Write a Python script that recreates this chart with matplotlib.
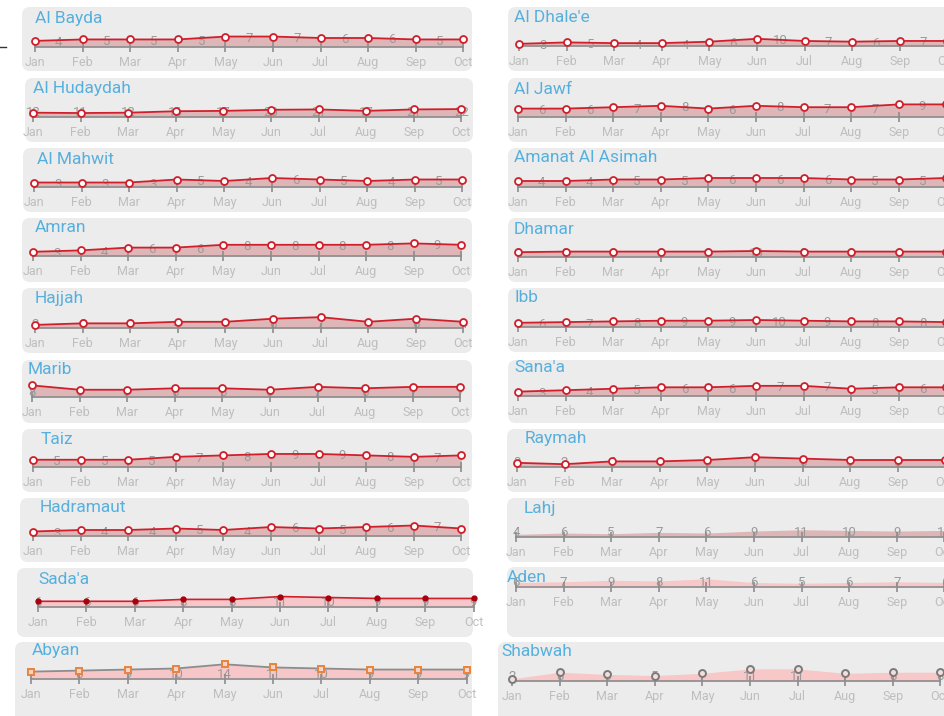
import matplotlib
matplotlib.use("Agg")
import matplotlib.pyplot as plt
from matplotlib.patches import FancyBboxPatch

# province data, Jan..Oct
months = ['Jan', 'Feb', 'Mar', 'Apr', 'May', 'Jun', 'Jul', 'Aug', 'Sep', 'Oct']

left_names = ['Al Bayda', 'Al Hudaydah', 'Al Mahwit', 'Amran', 'Hajjah',
              'Marib', 'Taiz', 'Hadramaut', "Sada'a", 'Abyan']
right_names = ["Al Dhale'e", 'Al Jawf', 'Amanat Al Asimah', 'Dhamar', 'Ibb',
               "Sana'a", 'Raymah', 'Lahj', 'Aden', 'Shabwah']

al_bayda = [4, 5, 5, 5, 7, 7, 6, 6, 5, 5]
al_hudaydah = [12, 11, 12, 16, 17, 20, 21, 17, 21, 22]
al_mahwit = [3, 3, 3, 5, 4, 6, 5, 4, 5, 5]
amran = [3, 4, 6, 6, 8, 8, 8, 8, 9, 8]
hajjah = [2, 3, 3, 4, 4, 6, 7, 4, 6, 4]
marib = [8, 5, 5, 6, 6, 5, 7, 6, 7, 7]
taiz = [5, 5, 5, 7, 8, 9, 9, 8, 7, 8]
hadramaut = [3, 4, 4, 5, 4, 6, 5, 6, 7, 5]
sadaa = [6, 6, 6, 8, 8, 11, 10, 9, 9, 9]
abyan = [7, 8, 9, 10, 14, 11, 10, 9, 9, 9]

al_dhalee = [3, 5, 4, 4, 6, 10, 7, 6, 7, 7]
al_jawf = [6, 6, 7, 8, 6, 8, 7, 7, 9, 9]
amanat = [4, 4, 5, 5, 6, 6, 6, 5, 5, 6]
dhamar = [8, 9, 9, 9, 9, 10, 9, 9, 9, 9]
ibb = [6, 7, 8, 9, 9, 10, 9, 8, 8, 7]
sanaa = [3, 4, 5, 6, 6, 7, 7, 5, 6, 6]
raymah = [3, 2, 4, 4, 5, 7, 6, 5, 5, 5]
lahj = [4, 6, 5, 7, 6, 9, 11, 10, 9, 10]
aden = [6, 7, 9, 8, 11, 6, 5, 6, 7, 6]
shabwah = [2, 8, 6, 5, 7, 11, 11, 7, 8, 8]

left_values = [al_bayda, al_hudaydah, al_mahwit, amran, hajjah,
               marib, taiz, hadramaut, sadaa, abyan]
right_values = [al_dhalee, al_jawf, amanat, dhamar, ibb,
                sanaa, raymah, lahj, aden, shabwah]

# layout in pixels: panel box (l, t, r, b), baseline y, jan x, month step,
# title pos, pixels per unit, mark style, label style
left_layout = [
    ((22, 7, 472, 71), 46.7, 35, 47.6, (35, 18), 1.45, 'std', 'mid'),
    ((25, 78, 473, 142), 117, 33, 47.6, (33, 88), 0.36, 'std', 'tick'),
    ((23, 148, 472, 212), 187, 34, 47.6, (37, 159), 1.5, 'std', 'mid'),
    ((22, 218, 472, 282), 256, 33, 47.6, (35, 228), 1.4, 'std', 'mid'),
    ((22, 288, 472, 353), 328, 35, 47.6, (35, 299), 1.55, 'std', 'tick'),
    ((22, 360, 472, 423), 397, 32, 47.6, (28, 370), 1.45, 'std', 'tick'),
    ((22, 429, 472, 492), 467, 33, 47.6, (41, 439), 1.45, 'std', 'mid'),
    ((20, 498, 469, 562), 536, 33, 47.6, (40, 508), 1.5, 'std', 'mid'),
    ((17, 568, 473, 637), 607, 38, 48.4, (38, 579), 0.95, 'dot', 'tick'),
    ((15, 642, 472, 724), 679, 31, 48.4, (32, 651), 1.05, 'square', 'tick'),
]
right_layout = [
    ((508, 7, 970, 71), 46, 519, 47.6, (514, 17), 0.72, 'std', 'mid'),
    ((508, 78, 970, 142), 117, 518, 47.6, (514, 89), 1.4, 'std', 'mid'),
    ((508, 148, 970, 212), 187, 518, 47.6, (514, 157), 1.5, 'std', 'mid'),
    ((508, 218, 970, 282), 257, 518, 47.6, (514, 230), 0.6, 'std', 'tick'),
    ((508, 288, 970, 352), 327, 518, 47.6, (514, 298), 0.7, 'std', 'mid'),
    ((508, 360, 970, 423), 396, 518, 47.6, (514, 368), 1.45, 'std', 'mid'),
    ((507, 429, 970, 492), 467, 517, 47.6, (525, 439), 1.4, 'std', 'tick'),
    ((507, 498, 970, 562), 537, 516, 47.6, (524, 508), 0.66, 'fill', 'tick'),
    ((507, 567, 970, 637), 587, 516, 47.6, (507, 577), 0.75, 'light', 'tick'),
    ((498, 642, 970, 724), 681, 512, 47.6, (501, 651), 1.1, 'pin', 'tick'),
]

W, H = 944, 716
PT = 0.72  # points per pixel at dpi 100
AX_H = 22

font = ['Roboto', 'DejaVu Sans']

fig = plt.figure(figsize=(W / 100, H / 100), dpi=100)
fig.patch.set_facecolor('white')

bg = fig.add_axes([0, 0, 1, 1], zorder=-1)
bg.set_xlim(0, W)
bg.set_ylim(H, 0)
bg.axis('off')
bg.plot([0, 6], [47, 47], color='#333333', lw=1)


def draw_panel(name, vals, lay):
    (l, t, r, b), base, jx, step, (tx, ty), ppu, mark, lab = lay
    bg.add_patch(FancyBboxPatch((l, t), r - l, b - t,
                                boxstyle="round,pad=0,rounding_size=8",
                                fc='#ececec', ec='none'))
    bg.text(tx, ty, name, color='#56b0de', fontsize=12.5, family=font,
            ha='left', va='center')

    ax = fig.add_axes([jx / W, 1 - base / H, 9 * step / W, AX_H / H])
    ax.set_xlim(0, 9)
    ax.set_ylim(0, AX_H / ppu)
    ax.patch.set_alpha(0)
    for s in ['top', 'right', 'left']:
        ax.spines[s].set_visible(False)
    ax.spines['bottom'].set_color('#8c8c8c')
    ax.spines['bottom'].set_linewidth(1.2)
    ax.spines['bottom'].set_clip_on(False)
    ax.set_yticks([])
    ax.set_xticks(range(10))
    ax.set_xticklabels([])
    ax.tick_params(axis='x', direction='inout', length=10 * PT,
                   width=1.2, color='#8c8c8c')
    ax.set_axisbelow(False)

    x = list(range(10))
    fill_c = {'std': '#deb6b7', 'dot': '#f7c6c8', 'square': '#f7c6c8',
              'fill': '#deb6b7', 'light': '#f8c8c8', 'pin': '#f8c8c8'}[mark]
    ax.fill_between(x, 0, vals, color=fill_c, lw=0, zorder=1, clip_on=False)
    if mark == 'std':
        ax.plot(x, vals, color='#cf1f2b', lw=1.3, marker='o', ms=5,
                mfc='white', mec='#cf1f2b', mew=1.3, zorder=4, clip_on=False)
    elif mark == 'dot':
        ax.plot(x, vals, color='#cf1f2b', lw=1.2, marker='o', ms=3.5,
                mfc='#a8000c', mec='#a8000c', zorder=4, clip_on=False)
    elif mark == 'square':
        ax.plot(x, vals, color='#8c8c8c', lw=1.3, marker='s', ms=5,
                mfc='#fbd3c8', mec='#e8843c', mew=1.4, zorder=4, clip_on=False)
    elif mark == 'pin':
        ax.plot(x, vals, ls='none', marker='o', ms=5, mfc='#f3dede',
                mec='#7a7a7a', mew=1.4, zorder=4, clip_on=False)

    for i, v in enumerate(vals):
        if lab == 'mid':
            ax.annotate(str(v), (min(i + 0.5, 9.25), v), xytext=(0, -2 * PT),
                        textcoords='offset points', ha='center', va='center',
                        fontsize=9.5, color='#9a9a9a', family=font, zorder=3)
        else:
            ax.annotate(str(v), (i, 0), xytext=(0, 4 * PT),
                        textcoords='offset points', ha='center', va='center',
                        fontsize=9.5, color='#9a9a9a', family=font, zorder=2)
        ax.annotate(months[i], (i, 0), xytext=(0, -15.5 * PT),
                    textcoords='offset points', ha='center', va='center',
                    fontsize=9, color='#bebebe', family=font)


for name, vals, lay in zip(left_names, left_values, left_layout):
    draw_panel(name, vals, lay)
for name, vals, lay in zip(right_names, right_values, right_layout):
    draw_panel(name, vals, lay)

fig.savefig('out.png', dpi=100)
